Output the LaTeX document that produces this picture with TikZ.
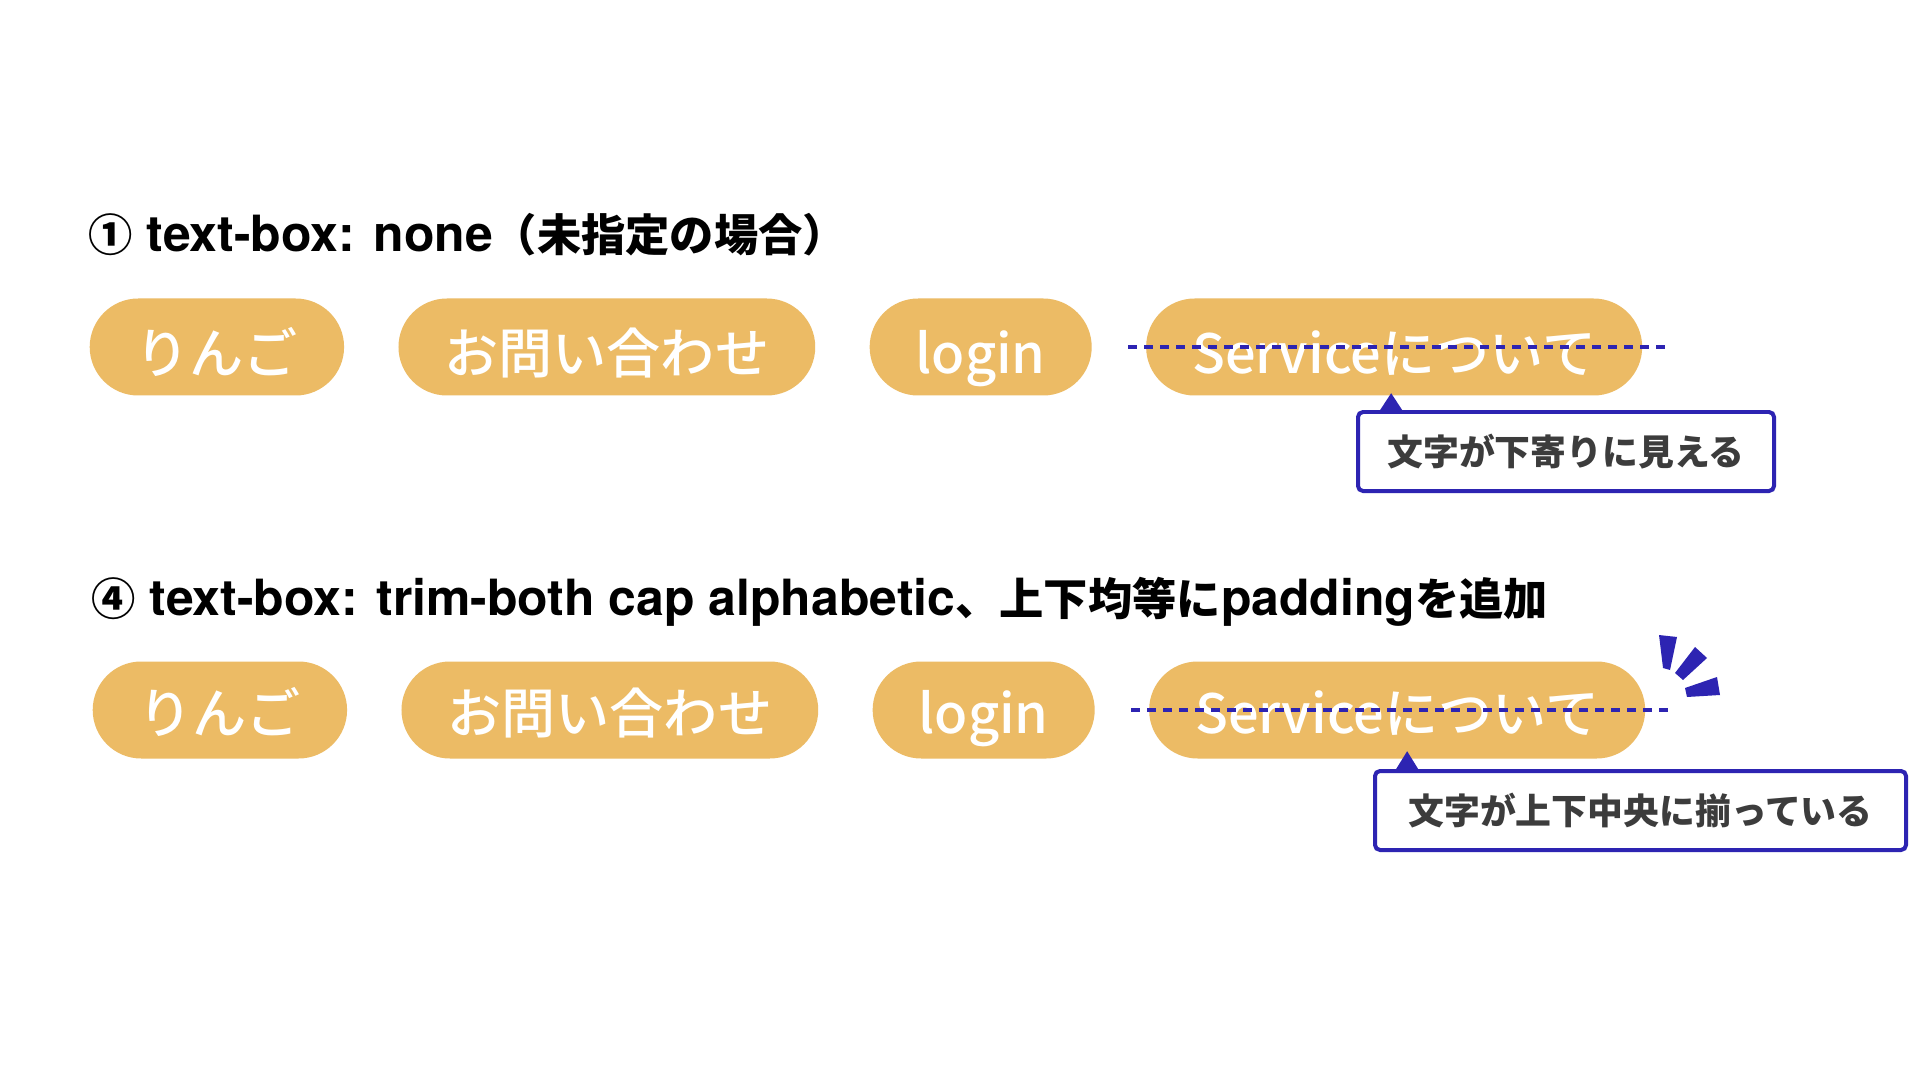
\documentclass[tikz,border=0pt]{standalone}
\usepackage{fontspec}
\setmainfont{TeX Gyre Heros}
\newfontfamily\jp{Noto Sans CJK JP}
\newfontfamily\jpmed{Noto Sans CJK JP Medium}
\definecolor{pillfill}{RGB}{236,187,101}
\definecolor{accent}{RGB}{45,36,178}
\definecolor{rulegray}{RGB}{218,218,218}
\definecolor{notetext}{RGB}{60,60,60}
\newcommand{\ja}[1]{{\jp\fontsize{12.6pt}{15pt}\selectfont #1}}
\usetikzlibrary{positioning, backgrounds}

\begin{document}
\begin{tikzpicture}[node distance=0.53cm,
      heading/.style={anchor=base west,inner sep=0pt,font=\bfseries\fontsize{14.2pt}{17pt}\selectfont},
      pill/.style={fill=pillfill,rounded corners=0.485cm,minimum height=0.97cm,
                   inner xsep=0.46cm,inner ysep=0pt,text=white,text depth=0pt,
                   font=\jpmed\fontsize{15.4pt}{18pt}\selectfont},
      lowpill/.style={pill,text height=0.52cm},
      midpill/.style={pill,text height=0.46cm},
      note/.style={draw=accent,line width=0.04cm,fill=white,rounded corners=0.05cm,
                   minimum height=0.79cm,inner xsep=0.27cm,text=notetext,
                   font=\jp\bfseries\fontsize{10.2pt}{12pt}\selectfont},
      guide/.style={accent,line width=0.045cm,dash pattern=on 0.09cm off 0.07cm},
      rule/.style={rulegray,line width=0.02cm}]
    \fill[white] (0,0) rectangle (19.2,-10.8);
    \useasboundingbox (0,0) rectangle (19.2,-10.8);

    \node[heading] (title1) at (0.88,-2.52) {\ja{①} text-box: none\ja{（未指定の場合）}};
    \node[lowpill,anchor=west] (p1) at (0.89,-3.47) {りんご};
    \node[lowpill,right=of p1] (p2) {お問い合わせ};
    \node[lowpill,right=of p2] (p3) {login};
    \node[lowpill,right=of p3] (p4) {Serviceについて};
    \draw[guide] ([xshift=-0.17cm]p4.west) -- ([xshift=0.26cm]p4.east);
    \node[note,anchor=north west,minimum width=4.16cm] (note1) at (13.56,-4.10) {文字が下寄りに見える};
    \fill[accent] ([xshift=-0.03cm,yshift=0.03cm]p4.south)
      -- ([xshift=-0.14cm]p4.south |- note1.north)
      -- ([xshift=0.08cm]p4.south |- note1.north) -- cycle;
    \coordinate (r1) at (0.86,-4.49);
    \begin{scope}[on background layer]
      \draw[rule] (r1) -- (r1 -| note1.west);
    \end{scope}

    \node[heading] (title2) at (0.91,-6.15) {\ja{④} text-box: trim-both cap alphabetic\ja{、上下均等に}padding\ja{を追加}};
    \node[midpill,anchor=west] (p5) at (0.92,-7.10) {りんご};
    \node[midpill,right=of p5] (p6) {お問い合わせ};
    \node[midpill,right=of p6] (p7) {login};
    \node[midpill,right=of p7] (p8) {Serviceについて};
    \draw[guide] ([xshift=-0.17cm]p8.west) -- ([xshift=0.23cm]p8.east);
    \node[note,anchor=north west,minimum width=5.31cm] (note2) at (13.73,-7.69) {文字が上下中央に揃っている};
    \fill[accent] ([xshift=0.1cm,yshift=0.08cm]p8.south)
      -- ([xshift=-0.01cm]p8.south |- note2.north)
      -- ([xshift=0.21cm]p8.south |- note2.north) -- cycle;
    \coordinate (r2) at (0.88,-7.59);
    \begin{scope}[on background layer]
      \draw[rule] (r2) -- (r2 -| p8.east);
    \end{scope}

    \fill[accent] (16.59,-6.35) -- (16.77,-6.37) -- (16.70,-6.70) -- (16.63,-6.68) -- cycle;
    \fill[accent] (16.95,-6.47) -- (17.07,-6.58) -- (16.83,-6.80) -- (16.75,-6.73) -- cycle;
    \fill[accent] (16.85,-6.88) -- (17.17,-6.77) -- (17.20,-6.95) -- (16.87,-6.97) -- cycle;
  \end{tikzpicture}
\end{document}
